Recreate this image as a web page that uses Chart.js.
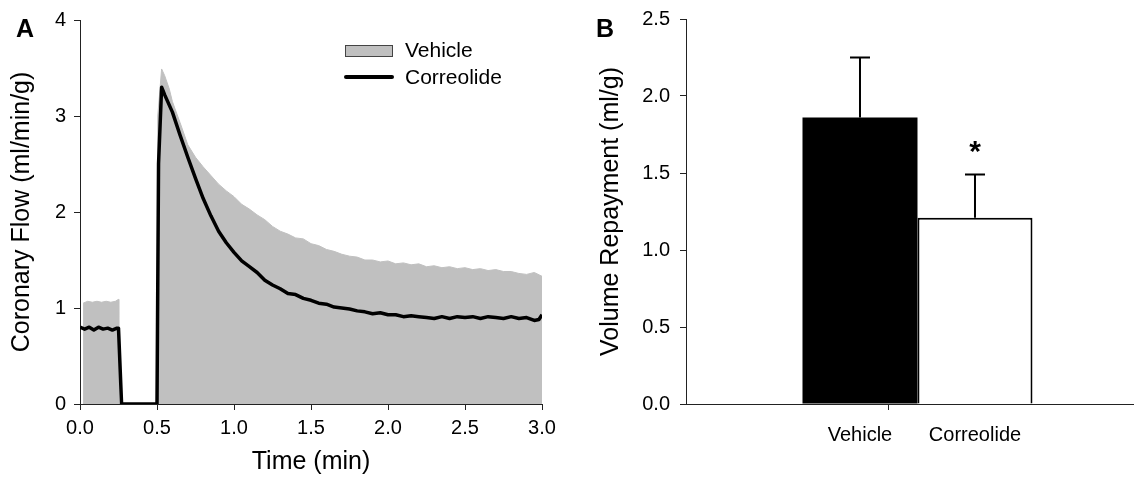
<!DOCTYPE html>
<html>
<head>
<meta charset="utf-8">
<script src="https://cdn.jsdelivr.net/npm/chart.js@4.4.0/dist/chart.umd.min.js"></script>
<style>
  body { margin: 0; background: #fff; width: 1135px; height: 478px; overflow: hidden; position: relative;
         font-family: "Liberation Sans", Arial, sans-serif; }
  #wrapA { position: absolute; left: 0; top: 0; width: 565px; height: 478px; }
  #wrapB { position: absolute; left: 565px; top: 0; width: 570px; height: 478px; }
  .panel { position: absolute; font-weight: bold; font-size: 25px; line-height: 25px; }
</style>
</head>
<body>
<div id="wrapA"><canvas id="flowChart"></canvas></div>
<div id="wrapB"><canvas id="repayChart"></canvas></div>
<div class="panel" style="left:16px; top:16px;">A</div>
<div class="panel" style="left:596px; top:16px;">B</div>
<script>
// panel A - coronary flow (ml/min/g) vs time (min)
const timeVehicle = [0.02, 0.05, 0.08, 0.11, 0.14, 0.17, 0.20, 0.23, 0.25, 0.252, 0.5, 0.505, 0.53, 0.55, 0.58, 0.60,
  0.65, 0.70, 0.75, 0.80, 0.85, 0.90, 0.95, 1.00, 1.05, 1.10, 1.15, 1.20, 1.25, 1.30, 1.35, 1.40, 1.45, 1.50,
  1.55, 1.60, 1.65, 1.70, 1.75, 1.80, 1.85, 1.90, 1.95, 2.00, 2.05, 2.10, 2.15, 2.20, 2.25, 2.30, 2.35, 2.40,
  2.45, 2.50, 2.55, 2.60, 2.65, 2.70, 2.75, 2.80, 2.85, 2.90, 2.95, 3.00];
const flowVehicle = [1.05, 1.07, 1.06, 1.07, 1.06, 1.07, 1.06, 1.07, 1.09, 0, 0, 3.0, 3.49, 3.42, 3.28, 3.15,
  2.93, 2.70, 2.57, 2.47, 2.38, 2.29, 2.22, 2.16, 2.08, 2.03, 1.97, 1.92, 1.85, 1.80, 1.77, 1.73, 1.72, 1.67,
  1.65, 1.61, 1.59, 1.56, 1.54, 1.53, 1.50, 1.50, 1.48, 1.49, 1.46, 1.47, 1.45, 1.46, 1.43, 1.44, 1.42, 1.43,
  1.41, 1.42, 1.40, 1.41, 1.39, 1.40, 1.38, 1.38, 1.36, 1.35, 1.37, 1.33];
const timeCorreolide = [0.0, 0.03, 0.06, 0.09, 0.12, 0.15, 0.18, 0.21, 0.24, 0.25, 0.27, 0.50, 0.51, 0.53, 0.55,
  0.60, 0.65, 0.70, 0.75, 0.80, 0.85, 0.90, 0.95, 1.00, 1.05, 1.10, 1.15, 1.20, 1.25, 1.30, 1.35, 1.40, 1.45,
  1.50, 1.55, 1.60, 1.65, 1.70, 1.75, 1.80, 1.85, 1.90, 1.95, 2.00, 2.05, 2.10, 2.15, 2.20, 2.25, 2.30, 2.35,
  2.40, 2.45, 2.50, 2.55, 2.60, 2.65, 2.70, 2.75, 2.80, 2.85, 2.90, 2.95, 2.98, 3.00];
const flowCorreolide = [0.80, 0.78, 0.80, 0.77, 0.80, 0.78, 0.79, 0.77, 0.79, 0.79, 0, 0, 2.5, 3.30, 3.22,
  3.04, 2.80, 2.57, 2.35, 2.14, 1.96, 1.80, 1.68, 1.58, 1.49, 1.43, 1.37, 1.29, 1.24, 1.20, 1.15, 1.14, 1.10,
  1.08, 1.05, 1.04, 1.01, 1.00, 0.99, 0.97, 0.96, 0.94, 0.95, 0.93, 0.93, 0.91, 0.92, 0.91, 0.90, 0.89, 0.91,
  0.89, 0.91, 0.90, 0.91, 0.89, 0.91, 0.90, 0.89, 0.91, 0.89, 0.90, 0.87, 0.88, 0.93];
const timeTicks = [0, 0.5, 1.0, 1.5, 2.0, 2.5, 3.0];

// panel B - volume repayment (ml/g)
const groupLabels = ["Vehicle", "Correolide"];
const repaymentMean = [1.86, 1.21];
const repaymentSem = [0.39, 0.28];
const significant = [false, true];

Chart.defaults.font.family = '"Liberation Sans", Arial, sans-serif';
Chart.defaults.color = '#000';
Chart.defaults.animation = false;

const toPoints = (xs, ys) => xs.map((x, i) => ({ x: x, y: ys[i] }));

// legend sitting inside the plot, top right
const insideLegend = {
  id: 'insideLegend',
  afterDraw(chart) {
    const { ctx, chartArea } = chart;
    const x = chartArea.left + 265, y = chartArea.top + 25;
    ctx.save();
    ctx.fillStyle = '#c0c0c0';
    ctx.fillRect(x, y, 48, 12);
    ctx.strokeStyle = '#444';
    ctx.lineWidth = 1;
    ctx.strokeRect(x + 0.5, y + 0.5, 47, 11);
    ctx.strokeStyle = '#000';
    ctx.lineWidth = 4;
    ctx.lineCap = 'round';
    ctx.beginPath();
    ctx.moveTo(x + 1, y + 32);
    ctx.lineTo(x + 47, y + 32);
    ctx.stroke();
    ctx.fillStyle = '#000';
    ctx.font = '21px "Liberation Sans", Arial, sans-serif';
    ctx.textBaseline = 'middle';
    ctx.fillText(chart.data.datasets[1].label, x + 60, y + 6);
    ctx.fillText(chart.data.datasets[0].label, x + 60, y + 33);
    ctx.restore();
  }
};

const axisBase = {
  grid: { drawOnChartArea: false, color: '#222', tickColor: '#222', tickLength: 6 },
  border: { display: true, color: '#222', width: 1 }
};

// fixed width for the y axis, and no extra room for its end labels
const fixY = (w) => (scale) => { scale.width = w; scale.paddingTop = 0; scale.paddingBottom = 0; };

new Chart(document.getElementById('flowChart'), {
  type: 'scatter',
  data: {
    datasets: [
      { label: 'Correolide', data: toPoints(timeCorreolide, flowCorreolide), showLine: true,
        borderColor: '#000', borderWidth: 3.5, borderJoinStyle: 'round', pointRadius: 0, fill: false, tension: 0 },
      { label: 'Vehicle', data: toPoints(timeVehicle, flowVehicle), showLine: true,
        borderColor: '#c0c0c0', borderWidth: 1, backgroundColor: '#c0c0c0', pointRadius: 0, fill: 'origin', tension: 0 }
    ]
  },
  options: {
    responsive: true,
    maintainAspectRatio: false,
    layout: { padding: { top: 20, right: 23, left: 0, bottom: 0 } },
    plugins: { legend: { display: false }, tooltip: { enabled: false } },
    scales: {
      x: {
        ...axisBase,
        type: 'linear', min: 0, max: 3,
        afterBuildTicks: (scale) => { scale.ticks = timeTicks.map(v => ({ value: v })); },
        afterFit: (scale) => { scale.height = 74; },
        ticks: { font: { size: 20 }, padding: 6, maxRotation: 0, callback: (v) => v.toFixed(1) },
        title: { display: true, text: 'Time (min)', font: { size: 25 }, padding: { top: 0, bottom: 1 } }
      },
      y: {
        ...axisBase,
        min: 0, max: 4,
        afterFit: fixY(80),
        ticks: { stepSize: 1, font: { size: 20 }, padding: 8 },
        title: { display: true, text: 'Coronary Flow (ml/min/g)', font: { size: 25 }, padding: { top: 7, bottom: 0 } }
      }
    }
  },
  plugins: [insideLegend]
});

// upper error bars + significance star
const errorBars = {
  id: 'errorBars',
  afterDatasetsDraw(chart) {
    const { ctx, scales } = chart;
    ctx.save();
    ctx.strokeStyle = '#000';
    ctx.lineWidth = 2;
    repaymentMean.forEach((m, i) => {
      const x = scales.x.getPixelForValue(i);
      const yBase = scales.y.getPixelForValue(m);
      const yTop = scales.y.getPixelForValue(m + repaymentSem[i]);
      ctx.beginPath();
      ctx.moveTo(x, yBase);
      ctx.lineTo(x, yTop);
      ctx.moveTo(x - 10, yTop);
      ctx.lineTo(x + 10, yTop);
      ctx.stroke();
      if (significant[i]) {
        ctx.fillStyle = '#000';
        ctx.font = 'bold 30px "Liberation Sans", Arial, sans-serif';
        ctx.textAlign = 'center';
        ctx.textBaseline = 'middle';
        ctx.fillText('*', x, yTop - 22);
      }
    });
    ctx.restore();
  }
};

new Chart(document.getElementById('repayChart'), {
  type: 'bar',
  data: {
    datasets: [{
      label: 'Volume Repayment',
      data: toPoints(groupLabels.map((g, i) => i), repaymentMean),
      backgroundColor: ['#000', '#fff'],
      borderColor: '#000',
      borderWidth: [0, 2],
      borderSkipped: 'bottom',
      barPercentage: 1,
      // the ruler spacing is half a category here (tick at 0.5), so double it
      categoryPercentage: 2
    }]
  },
  options: {
    responsive: true,
    maintainAspectRatio: false,
    layout: { padding: { top: 19, right: 2, left: 0, bottom: 0 } },
    plugins: { legend: { display: false }, tooltip: { enabled: false } },
    scales: {
      x: {
        ...axisBase,
        type: 'linear', min: -1.513, max: 2.374, offset: false,
        grid: { drawOnChartArea: false, tickLength: 6,
                tickColor: (c) => (c.tick && c.tick.value === 0.5) ? '#222' : 'rgba(0,0,0,0)' },
        afterBuildTicks: (scale) => { scale.ticks = [{ value: 0 }, { value: 0.5 }, { value: 1 }]; },
        afterFit: (scale) => { scale.height = 74; },
        ticks: { font: { size: 20 }, padding: 13, maxRotation: 0,
                 callback: (v) => v === 0 ? groupLabels[0] : (v === 1 ? groupLabels[1] : '') }
      },
      y: {
        ...axisBase,
        min: 0, max: 2.5,
        afterFit: fixY(121),
        ticks: { stepSize: 0.5, font: { size: 20 }, padding: 10, callback: (v) => v.toFixed(1) },
        title: { display: true, text: 'Volume Repayment (ml/g)', font: { size: 25 }, padding: { top: 31, bottom: 0 } }
      }
    }
  },
  plugins: [errorBars]
});
</script>
</body>
</html>
